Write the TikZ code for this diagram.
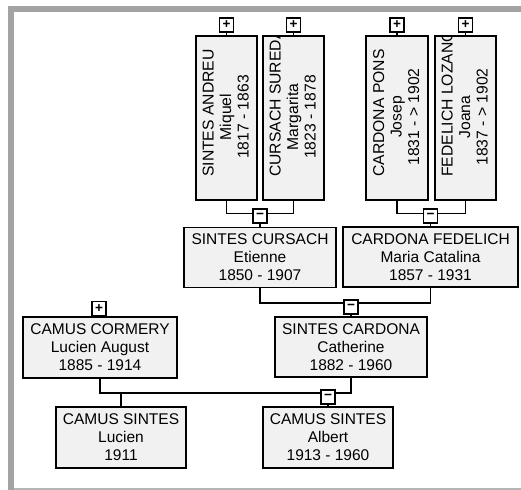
\documentclass[tikz,border=0pt]{standalone}
\usepackage{fontspec}
\setmainfont{Liberation Sans}
\definecolor{framegray}{RGB}{163,163,163}
\definecolor{boxgray}{RGB}{241,241,241}
\newcommand\hfont{\fontsize{15.5bp}{18bp}\selectfont}
\newcommand\vfont{\fontsize{15.7bp}{18bp}\selectfont}
\newcommand\tfont{\fontsize{13.5bp}{13.5bp}\selectfont\bfseries}
\begin{document}
\begin{tikzpicture}[x=1bp,y=-1bp,
  hperson/.style={draw=black, line width=1.5bp, fill=boxgray, inner sep=0pt,
    align=center, font=\hfont, minimum height=60bp},
  vperson/.style={draw=black, line width=1.5bp, fill=boxgray, inner sep=0pt,
    minimum width=61bp, minimum height=164bp},
  vtext/.style={rotate=90, inner sep=0pt, font=\vfont},
  toggle/.style={draw=black, line width=1.2bp, fill=white, inner sep=0pt,
    minimum size=14bp, font=\tfont},
  link/.style={draw=black, line width=1.5bp}]
\useasboundingbox (0,0) rectangle (521,490);
% frame
\fill[framegray] (8,6) rectangle (521,12);
\fill[framegray] (8,6) rectangle (14,490);
\fill[framegray!80] (14,488.3) rectangle (521,490);

% vertical boxes (great-grandparents)
\node[vperson] (b1) at (226.5,118) {};
\node[vperson] (b2) at (293.5,118) {};
\node[vperson, minimum width=62bp] (b3) at (397,118) {};
\node[vperson] (b4) at (465.5,118) {};

\begin{scope}
\clip (197,37.6) rectangle (256,199);
\node[vtext, anchor=base west] at (213.7,177) {SINTES ANDREU};
\node[vtext, anchor=base] at (231.2,117) {Miquel};
\node[vtext, anchor=base] at (248.7,117) {1817 - 1863};
\end{scope}
\begin{scope}
\clip (264,37.6) rectangle (323,199);
\node[vtext, anchor=base west] at (280.7,177) {CURSACH SUREDA};
\node[vtext, anchor=base] at (298.2,117) {Margarita};
\node[vtext, anchor=base] at (315.7,117) {1823 - 1878};
\end{scope}
\begin{scope}
\clip (367,37.6) rectangle (427,199);
\node[vtext, anchor=base west] at (384.2,177) {CARDONA PONS};
\node[vtext, anchor=base] at (401.7,117) {Josep};
\node[vtext, anchor=base] at (419.2,117) {1831 - > 1902};
\end{scope}
\begin{scope}
\clip (436,37.6) rectangle (495,199);
\node[vtext, anchor=base west] at (452.7,177) {FEDELICH LOZANO};
\node[vtext, anchor=base] at (470.2,117) {Joana};
\node[vtext, anchor=base] at (487.7,117) {1837 - > 1902};
\end{scope}

% expand toggles on top
\node[toggle] (t1) at (226.5,25) {+};
\node[toggle] (t2) at (293.5,25) {+};
\node[toggle] (t3) at (397,25) {+};
\node[toggle] (t4) at (465.5,25) {+};
\draw[link] (t1.south) -- (b1.north);
\draw[link] (t2.south) -- (b2.north);
\draw[link] (t3.south) -- (b3.north);
\draw[link] (t4.south) -- (b4.north);

% grandparents
\node[hperson, minimum width=152bp] (p1) at (260,257.5) {SINTES CURSACH\\Etienne\\1850 - 1907};
\node[hperson, minimum width=175bp] (p2) at (430.5,257) {CARDONA FEDELICH\\Maria Catalina\\1857 - 1931};
% parents
\node[hperson, minimum width=154bp, minimum height=61bp] (p3) at (100,347.5) {CAMUS CORMERY\\Lucien August\\1885 - 1914};
\node[hperson, minimum width=152bp] (p4) at (351,347) {SINTES CARDONA\\Catherine\\1882 - 1960};
% children
\node[hperson, minimum width=130bp, minimum height=61bp] (p5) at (121,437.5) {CAMUS SINTES\\Lucien\\1911};
\node[hperson, minimum width=130bp, minimum height=61bp] (p6) at (328,437.5) {CAMUS SINTES\\Albert\\1913 - 1960};

% couple links
\draw[link] (b1.south) -- ++(0,12.5) -| (b2.south);
\draw[link] (b3.south) -- ++(0,12.5) -| (b4.south);
\draw[link] (p1.south) -- ++(0,14.5) -| (p2.south);
\draw[link] (p3.south) -- ++(0,14) -| (p4.south);
\coordinate (j3) at (121,392);
\draw[link] (j3) -- (p5.north);

% collapse toggles
\node[toggle] (m1) at (260,216) {\symbol{"2212}};
\node[toggle] (m2) at (430.5,216) {\symbol{"2212}};
\node[toggle] (m3) at (351,307) {\symbol{"2212}};
\node[toggle] (m4) at (328,397) {\symbol{"2212}};
\node[toggle] (t5) at (99,308.5) {+};
\draw[link] (m1.south) -- (p1.north);
\draw[link] (m2.south) -- (p2.north);
\draw[link] (m3.south) -- (p4.north);
\draw[link] (m4.south) -- (p6.north);
\draw[link] (t5.south) -- (p3.north);
\end{tikzpicture}
\end{document}
